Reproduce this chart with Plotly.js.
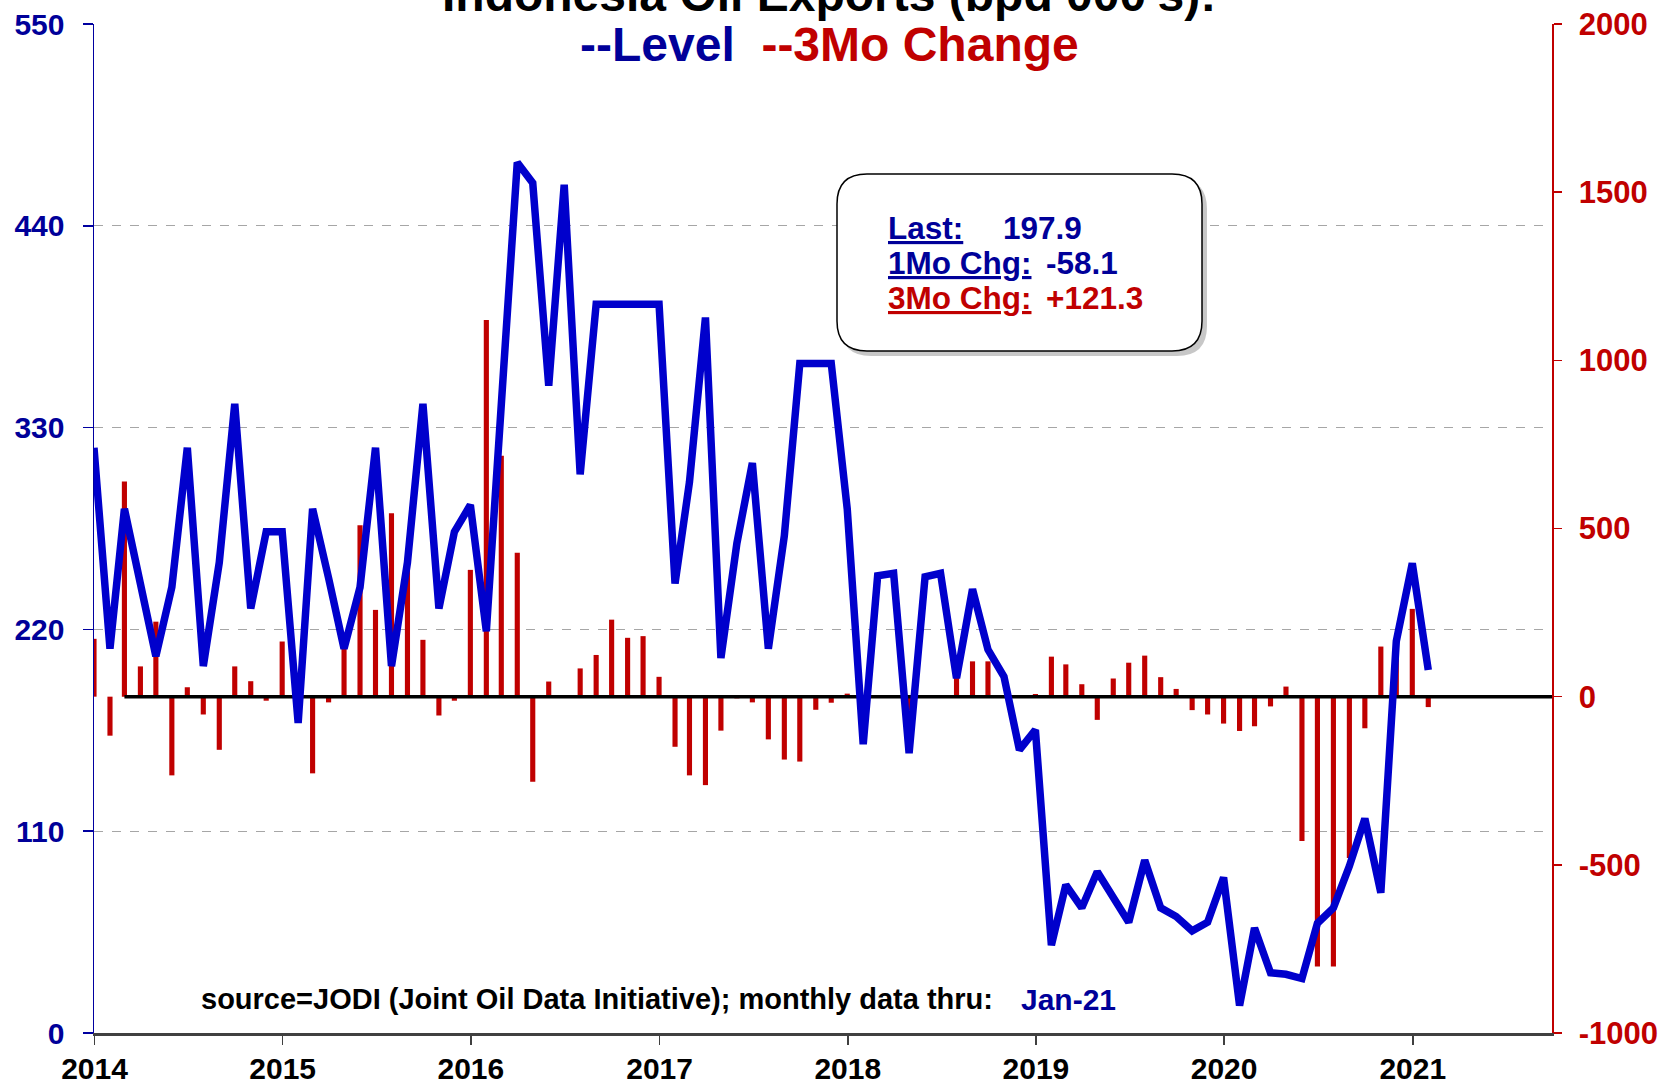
<!DOCTYPE html>
<html>
<head>
<meta charset="utf-8">
<script src="https://cdn.plot.ly/plotly-3.0.1.min.js"></script>
<style>
  html, body { margin: 0; padding: 0; background: #ffffff; }
  #chart { width: 1675px; height: 1085px; }
</style>
</head>
<body>
<div id="chart"></div>
<script>
// ---------------- DATA ----------------
// Monthly observations, Dec-2013 .. Jan-2021 (plotted at month end)
const firstMonth = { year: 2013, month: 12 };
const monthCount = 86;

// Indonesia oil exports level (bpd 000's) - left axis
const exportLevel = [
  319.0, 209.5, 285.7, 246.0, 205.4, 243.0, 319.0, 200.0, 256.5, 343.0, 231.4, 273.2,
  273.2, 169.0, 285.7, 248.0, 209.5, 243.0, 319.0, 200.0, 256.5, 343.0, 231.4, 273.2,
  287.8, 219.0, 350.0, 474.5, 463.4, 352.9, 462.4, 304.5, 397.3, 397.3, 397.3, 397.3,
  397.3, 245.0, 300.3, 390.0, 204.4, 267.0, 310.7, 209.5, 271.0, 365.0, 365.0, 365.0,
  285.7, 157.4, 249.2, 250.6, 152.5, 248.7, 250.6, 193.4, 241.9, 209.0, 194.3, 154.3,
  165.2, 47.9, 80.7, 68.2, 87.9, 73.7, 60.4, 94.2, 68.2, 63.5, 55.7, 60.4,
  84.8, 15.0, 57.2, 32.8, 32.0, 29.7, 59.8, 68.2, 91.0, 116.9, 76.5, 213.6,
  256.0, 197.9
];

// 3-month change - right axis
const threeMoChange = [
  172, -116, 640, 90, 223, -234, 28, -53, -158, 90, 46, -12,
  164, -50, -228, -17, 142, 510, 258, 545, 400, 169, -56, -12,
  377, 1120, 716, 428, -253, 45, 5, 84, 124, 229, 175, 180,
  59, -149, -234, -263, -101, -5, -17, -127, -187, -193, -39, -18,
  9, -40, 0, 3, -40, 0, 0, 65, 105, 105, 0, 5,
  8, 119, 96, 37, -69, 54, 101, 122, 58, 23, -40, -53,
  -80, -102, -88, -29, 30, -429, -802, -802, -480, -94, 149, 113,
  261, -31
];

// Axis ticks
const yearTicks = ['2014', '2015', '2016', '2017', '2018', '2019', '2020', '2021'];
const leftTicks = [0, 110, 220, 330, 440, 550];
const rightTicks = [-1000, -500, 0, 500, 1000, 1500, 2000];

// Text
const titleLine1 = "Indonesia Oil Exports (bpd 000's):";
const boxLabels = ['Last:', '1Mo Chg:', '3Mo Chg:'];
const boxValues = ['197.9', '-58.1', '+121.3'];
const sourceText = 'source=JODI (Joint Oil Data Initiative); monthly data thru:';
const thruText = 'Jan-21';

// ---------------- BUILD ----------------
function pad(n) { return (n < 10 ? '0' : '') + n; }
const dates = [];
for (let k = 0; k < monthCount; k++) {
  // last day of month (firstMonth + k)
  const d = new Date(Date.UTC(firstMonth.year, firstMonth.month + k, 0));
  dates.push(d.getUTCFullYear() + '-' + pad(d.getUTCMonth() + 1) + '-' + pad(d.getUTCDate()));
}
const xStart = '2013-12-31';
const xEnd = '2021-09-28';

const FONT = 'Liberation Sans, Arial, Helvetica, sans-serif';
const BLUE_LINE = '#0000CC';
const BLUE_TXT = '#000099';
const RED = '#C00000';

// pixel -> paper helpers (plot area geometry)
const PL = 94, PR = 1552, PT = 24, PB = 1033;
const px = v => (v - PL) / (PR - PL);
const py = v => (PB - v) / (PB - PT);

function roundRect(x0, y0, x1, y1, r) {
  const P = (x, y) => px(x).toFixed(5) + ',' + py(y).toFixed(5);
  return 'M' + P(x0 + r, y0) + ' L' + P(x1 - r, y0) +
    ' Q' + P(x1, y0) + ' ' + P(x1, y0 + r) +
    ' L' + P(x1, y1 - r) +
    ' Q' + P(x1, y1) + ' ' + P(x1 - r, y1) +
    ' L' + P(x0 + r, y1) +
    ' Q' + P(x0, y1) + ' ' + P(x0, y1 - r) +
    ' L' + P(x0, y0 + r) +
    ' Q' + P(x0, y0) + ' ' + P(x0 + r, y0) + ' Z';
}

const traces = [
  {
    type: 'bar', x: dates, y: threeMoChange, yaxis: 'y', xaxis: 'x',
    marker: { color: RED, line: { width: 0 } },
    width: 8.6e8, hoverinfo: 'skip', showlegend: false
  },
  {
    type: 'scatter', mode: 'lines', x: [dates[2], xEnd], y: [0, 0],
    yaxis: 'y', xaxis: 'x', line: { color: '#000000', width: 3.5 },
    hoverinfo: 'skip', showlegend: false
  },
  {
    type: 'scatter', mode: 'lines', x: dates, y: exportLevel,
    yaxis: 'y2', xaxis: 'x', line: { color: BLUE_LINE, width: 7.5 },
    hoverinfo: 'skip', showlegend: false
  }
];

const boxRowsY = [227.6, 262.6, 297.6];
const annotations = [
  {
    text: titleLine1, xref: 'paper', yref: 'paper', x: px(829), y: py(-6),
    xanchor: 'center', yanchor: 'middle', showarrow: false,
    bgcolor: '#ffffff', borderpad: 6,
    font: { family: FONT, size: 48, color: '#000000', weight: 'bold' }
  },
  {
    text: '<span style="color:' + BLUE_TXT + '">--Level</span>&nbsp;&nbsp;<span style="color:' + RED + '">--3Mo Change</span>',
    xref: 'paper', yref: 'paper', x: px(830), y: py(45), xanchor: 'center', yanchor: 'middle',
    showarrow: false, font: { family: FONT, size: 48, weight: 'bold' }
  },
  {
    text: sourceText, xref: 'paper', yref: 'paper', x: px(199), y: py(999),
    xanchor: 'left', yanchor: 'middle', showarrow: false,
    font: { family: FONT, size: 29, color: '#000000', weight: 'bold' }
  },
  {
    text: thruText, xref: 'paper', yref: 'paper', x: px(1019), y: py(999),
    xanchor: 'left', yanchor: 'middle', showarrow: false,
    font: { family: FONT, size: 30, color: BLUE_TXT, weight: 'bold' }
  }
];
const boxColors = [BLUE_TXT, BLUE_TXT, RED];
const valueX = [1001, 1044, 1044];
for (let i = 0; i < boxLabels.length; i++) {
  annotations.push({
    text: boxLabels[i], xref: 'paper', yref: 'paper', x: px(886), y: py(boxRowsY[i]),
    xanchor: 'left', yanchor: 'middle', showarrow: false,
    font: { family: FONT, size: 31.5, color: boxColors[i], weight: 'bold', lineposition: 'under' }
  });
  annotations.push({
    text: boxValues[i], xref: 'paper', yref: 'paper', x: px(valueX[i]), y: py(boxRowsY[i]),
    xanchor: 'left', yanchor: 'middle', showarrow: false,
    font: { family: FONT, size: 31.5, color: boxColors[i], weight: 'bold' }
  });
}

const shapes = [
  {
    type: 'path', xref: 'paper', yref: 'paper', layer: 'above',
    path: roundRect(841, 179, 1207, 356, 30),
    fillcolor: 'rgba(0,0,0,0.22)', line: { width: 0 }
  },
  {
    type: 'path', xref: 'paper', yref: 'paper', layer: 'above',
    path: roundRect(837, 174, 1202, 351, 30),
    fillcolor: '#ffffff', line: { color: '#000000', width: 1.5 }
  }
];

const layout = {
  width: 1675, height: 1085,
  margin: { l: PL, r: 1675 - PR, t: PT, b: 1085 - PB, pad: 0 },
  paper_bgcolor: '#ffffff', plot_bgcolor: '#ffffff',
  showlegend: false,
  font: { family: FONT },
  xaxis: {
    type: 'date', range: [xStart, xEnd],
    tickmode: 'array',
    tickvals: yearTicks.map(y => y + '-01-01'),
    ticktext: yearTicks,
    ticks: 'outside', ticklen: 9, tickwidth: 1.5, tickcolor: '#404040',
    showline: true, linecolor: '#404040', linewidth: 2.5,
    showgrid: false, zeroline: false,
    tickfont: { family: FONT, size: 30, color: '#000000', weight: 'bold' },
    ticklabelstandoff: -2
  },
  yaxis: {
    side: 'right', range: [-1000, 2000],
    tickmode: 'array', tickvals: rightTicks, ticktext: rightTicks.map(String),
    ticks: 'outside', ticklen: 8, tickwidth: 1.5, tickcolor: RED,
    showline: true, linecolor: RED, linewidth: 1.5,
    showgrid: false, zeroline: false,
    tickfont: { family: FONT, size: 31, color: RED, weight: 'bold' },
    ticklabelstandoff: 11
  },
  yaxis2: {
    overlaying: 'y', side: 'left', range: [0, 550],
    tickmode: 'array', tickvals: leftTicks, ticktext: leftTicks.map(String),
    ticks: 'outside', ticklen: 10, tickwidth: 1.5, tickcolor: '#0000A0',
    showline: true, linecolor: '#0000A0', linewidth: 1.5,
    showgrid: true, gridcolor: '#A6A6A6', gridwidth: 1, griddash: 'dash',
    zeroline: false,
    tickfont: { family: FONT, size: 30, color: BLUE_TXT, weight: 'bold' },
    ticklabelstandoff: 12
  },
  annotations: annotations,
  shapes: shapes
};

Plotly.newPlot('chart', traces, layout, { staticPlot: true, displayModeBar: false });
</script>
</body>
</html>
